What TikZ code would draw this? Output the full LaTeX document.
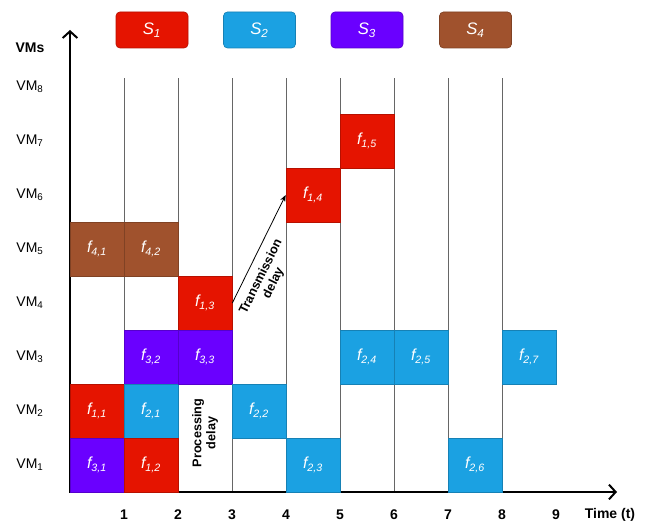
\documentclass[tikz,border=0pt]{standalone}
\usepackage{fontspec}
\setmainfont{Liberation Sans}
\usetikzlibrary{arrows.meta,positioning}
\definecolor{sRed}{HTML}{E51400}
\definecolor{sBlue}{HTML}{1BA1E2}
\definecolor{sPurple}{HTML}{6A00FF}
\definecolor{sBrown}{HTML}{A0522D}
\tikzset{
  tk/.style    = {minimum size=40.5pt, inner sep=0pt, text=white, line width=0.5pt,
                  font=\fontsize{12}{14}\selectfont\itshape},
  tkr/.style   = {tk, fill=sRed, draw=sRed!80!black},
  tkb/.style   = {tk, fill=sBlue, draw=sBlue!80!black},
  tkp/.style   = {tk, fill=sPurple, draw=sPurple!80!black},
  tkn/.style   = {tk, fill=sBrown, draw=sBrown!80!black},
  leg/.style   = {minimum width=54pt, minimum height=27pt, rounded corners=3pt,
                  inner sep=0pt, text=white, line width=0.5pt,
                  font=\fontsize{12.5}{14}\selectfont\itshape},
  ax/.style    = {line width=1.5pt, {Straight Barb[length=5pt,width=11pt]}-{Straight Barb[length=5pt,width=11pt]}},
  gridln/.style= {draw=black!60, line width=0.75pt},
  ar/.style    = {-{Stealth[length=5pt,width=4pt]}, line width=0.6pt},
  vmlbl/.style = {font=\fontsize{10.5}{12}\selectfont},
  tcklbl/.style= {font=\fontsize{10.5}{12}\selectfont\bfseries},
  dly/.style   = {align=center, inner sep=1pt, font=\fontsize{9.5}{10.5}\selectfont\bfseries},
}
\newcommand\fn[2]{f\textsubscript{#1,#2}}
\begin{document}
\begin{tikzpicture}[x=0.75pt,y=0.75pt]
  \useasboundingbox (0,0) rectangle (646,523);
  % time slots
  \foreach \i in {1,...,8}
    \draw[gridln] (70+54*\i,31) -- (70+54*\i,445);
  % axes
  \coordinate (ytop) at (70,493);
  \coordinate (xend) at (617,31);
  \draw[ax] (ytop) |- (xend);
  \foreach \i in {1,...,9}
    \node[tcklbl] (t\i) at (70+54*\i,8) {\i};
  \node[tcklbl] (time) at (610,8) {Time (t)};
  \foreach \r in {1,...,8}
    \node[vmlbl] (vm\r) at (30,4+54*\r) {VM\textsubscript{\r}};
  \node[tcklbl] (vms) at (30,475) {VMs};
  % services
  \node[leg, fill=sRed, draw=sRed!80!black]       (s1) at (152,493) {S\textsubscript{1}};
  \node[leg, fill=sBlue, draw=sBlue!80!black]     (s2) at (259.5,493) {S\textsubscript{2}};
  \node[leg, fill=sPurple, draw=sPurple!80!black] (s3) at (367,493) {S\textsubscript{3}};
  \node[leg, fill=sBrown, draw=sBrown!80!black]   (s4) at (475.5,493) {S\textsubscript{4}};
  % functions
  \node[tkn] (f41) at (97,274)  {\fn{4}{1}};
  \node[tkr] (f11) at (97,112)  {\fn{1}{1}};
  \node[tkp] (f31) at (97,58)   {\fn{3}{1}};
  \node[tkn] (f42) at (151,274) {\fn{4}{2}};
  \node[tkp] (f32) at (151,166) {\fn{3}{2}};
  \node[tkb] (f21) at (151,112) {\fn{2}{1}};
  \node[tkr] (f12) at (151,58)  {\fn{1}{2}};
  \node[tkr] (f13) at (205,220) {\fn{1}{3}};
  \node[tkp] (f33) at (205,166) {\fn{3}{3}};
  \node[tkb] (f22) at (259,112) {\fn{2}{2}};
  \node[tkr] (f14) at (313,328) {\fn{1}{4}};
  \node[tkb] (f23) at (313,58)  {\fn{2}{3}};
  \node[tkr] (f15) at (367,382) {\fn{1}{5}};
  \node[tkb] (f24) at (367,166) {\fn{2}{4}};
  \node[tkb] (f25) at (421,166) {\fn{2}{5}};
  \node[tkb] (f26) at (475,58)  {\fn{2}{6}};
  \node[tkb] (f27) at (529,166) {\fn{2}{7}};
  % delays
  \node[dly, rotate=90] (pd) at (205,90) {Processing\\delay};
  \draw[ar] (f13.east) -- node[dly, sloped, below=5pt, pos=0.3] (td) {Transmission\\delay} (f14.west);
\end{tikzpicture}
\end{document}
